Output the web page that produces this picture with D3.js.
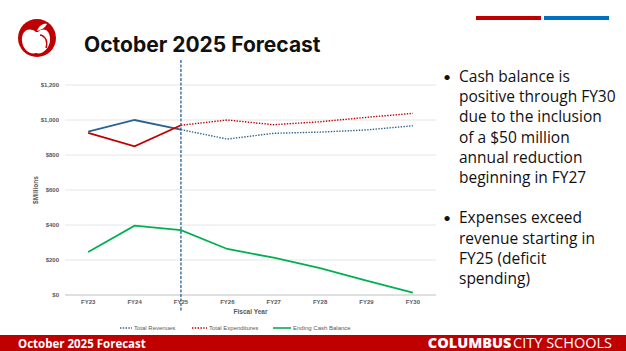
<!DOCTYPE html>
<html>
<head>
<meta charset="utf-8">
<script src="https://cdn.jsdelivr.net/npm/d3@7"></script>
<style>
  html, body { margin: 0; padding: 0; background: #fff; }
  svg { display: block; }
</style>
</head>
<body>
<div id="slide"></div>
<script>
// forecast data ($ millions)
const years = ["FY23", "FY24", "FY25", "FY26", "FY27", "FY28", "FY29", "FY30"];
const revenues = [933, 1000, 945, 891, 924, 931, 943, 967];
const expenditures = [927, 850, 970, 1000, 973, 990, 1015, 1038];
const cashBalance = [246, 396, 371, 263, 213, 154, 82, 13];
const yTicks = [0, 200, 400, 600, 800, 1000, 1200];
const actualThrough = "FY25";
const bullets = [
  ["Cash balance is", "positive through FY30", "due to the inclusion", "of a $50 million", "annual reduction", "beginning in FY27"],
  ["Expenses exceed", "revenue starting in", "FY25 (deficit", "spending)"]
];

const W = 626, H = 351;
const svg = d3.select("#slide").append("svg")
  .attr("width", W).attr("height", H)
  .style("font-family", "Lato, 'Open Sans', sans-serif");

// header accent bars
svg.append("rect").attr("x", 476).attr("y", 16).attr("width", 65).attr("height", 4).attr("fill", "#c00000");
svg.append("rect").attr("x", 544).attr("y", 16).attr("width", 65).attr("height", 4).attr("fill", "#0070c0");

// logo
const logo = svg.append("g").attr("transform", "translate(37,38)");
logo.append("circle").attr("r", 19).attr("fill", "#c00000");
logo.append("path")
  .attr("d", "M-1,-6 C-9,-12 -16,-6 -15,3 C-14,12 -7,17 -1,15 C5,17 12,11 13,3 C14,-6 8,-12 1,-6 Z")
  .attr("fill", "#fff");
logo.append("path")
  .attr("d", "M0,-7 C2,-13 7,-15 10,-14 C8,-10 4,-8 0,-7 Z")
  .attr("fill", "#fff");
logo.append("path")
  .attr("d", "M3,-3 C9,-2 11,4 9,10")
  .attr("fill", "none").attr("stroke", "#c00000").attr("stroke-width", 1.4);

svg.append("text")
  .attr("x", 84).attr("y", 52)
  .style("font-family", "Inter, 'Open Sans', sans-serif")
  .style("font-size", "21px").style("font-weight", 700)
  .attr("fill", "#111")
  .text("October 2025 Forecast");

// chart
const x = d3.scaleBand().domain(years).range([65, 436]);
const y = d3.scaleLinear().domain([0, 1200]).range([295, 85]);
const cx = d => x(d) + x.bandwidth() / 2;

svg.append("g")
  .selectAll("line")
  .data(yTicks)
  .join("line")
    .attr("x1", 65).attr("x2", 436)
    .attr("y1", d => y(d)).attr("y2", d => y(d))
    .attr("stroke", d => d === 0 ? "#bfbfbf" : "#e6e6e6")
    .attr("stroke-width", 1);

const yAxis = svg.append("g")
  .attr("transform", "translate(65,0)")
  .call(d3.axisLeft(y).tickValues(yTicks).tickSize(0).tickPadding(6)
    .tickFormat(d => "$" + d3.format(",")(d)));
yAxis.select(".domain").remove();
yAxis.selectAll("text").attr("fill", "#595959").style("font-size", "6px").style("font-weight", 700)
  .style("font-family", "Arial, 'Liberation Sans', sans-serif");

const xAxis = svg.append("g")
  .attr("transform", "translate(0,295)")
  .call(d3.axisBottom(x).tickSize(0).tickPadding(5));
xAxis.select(".domain").remove();
xAxis.selectAll("text").attr("fill", "#595959").style("font-size", "6px").style("font-weight", 700)
  .style("font-family", "Arial, 'Liberation Sans', sans-serif");

svg.append("text")
  .attr("x", cx("FY26") + x.bandwidth() / 2).attr("y", 314)
  .attr("text-anchor", "middle")
  .style("font-family", "Arial, 'Liberation Sans', sans-serif")
  .style("font-size", "6.5px").style("font-weight", 700).attr("fill", "#595959")
  .text("Fiscal Year");

svg.append("text")
  .attr("transform", "translate(38,190) rotate(-90)")
  .attr("text-anchor", "middle")
  .style("font-family", "Arial, 'Liberation Sans', sans-serif")
  .style("font-size", "6.5px").style("font-weight", 700).attr("fill", "#595959")
  .text("$Millions");

const line = d3.line().x(d => cx(d.year)).y(d => y(d.v));
const cut = years.indexOf(actualThrough);
function series(vals) { return years.map((yr, i) => ({ year: yr, v: vals[i] })); }

const lines = [
  { vals: revenues, color: "#2a628f" },
  { vals: expenditures, color: "#c00000" }
];
lines.forEach(s => {
  const pts = series(s.vals);
  svg.append("path").datum(pts.slice(0, cut + 1)).attr("d", line)
    .attr("fill", "none").attr("stroke", s.color).attr("stroke-width", 1.8);
  svg.append("path").datum(pts.slice(cut)).attr("d", line)
    .attr("fill", "none").attr("stroke", s.color).attr("stroke-width", 1.4)
    .attr("stroke-dasharray", "1.4,1.4");
});
svg.append("path").datum(series(cashBalance)).attr("d", line)
  .attr("fill", "none").attr("stroke", "#00b050").attr("stroke-width", 1.8);

// actual / forecast divider
svg.append("line")
  .attr("x1", cx(actualThrough)).attr("x2", cx(actualThrough))
  .attr("y1", 60).attr("y2", 311)
  .attr("stroke", "#2a628f").attr("stroke-width", 1.3)
  .attr("stroke-dasharray", "3,1.5");

// legend
const legend = [
  { label: "Total Revenues", color: "#2a628f", dash: "1.4,1.4", x0: 120, w: 12 },
  { label: "Total Expenditures", color: "#c00000", dash: "1.4,1.4", x0: 192, w: 15 },
  { label: "Ending Cash Balance", color: "#00b050", dash: null, x0: 273, w: 18 }
];
const lg = svg.append("g").selectAll("g").data(legend).join("g");
lg.append("line")
  .attr("x1", d => d.x0).attr("x2", d => d.x0 + d.w)
  .attr("y1", 328).attr("y2", 328)
  .attr("stroke", d => d.color).attr("stroke-width", 1.6)
  .attr("stroke-dasharray", d => d.dash);
lg.append("text")
  .attr("x", d => d.x0 + d.w + 2).attr("y", 330)
  .style("font-family", "Arial, 'Liberation Sans', sans-serif")
  .style("font-size", "6px").attr("fill", "#595959")
  .text(d => d.label);

// bullets
let ly = 82;
bullets.forEach((b, bi) => {
  if (bi > 0) ly += 20.2;
  b.forEach((t, i) => {
    if (i === 0) {
      svg.append("text").attr("x", 443).attr("y", ly).style("font-size", "14px").attr("fill", "#111").text("•");
    }
    svg.append("text").attr("x", 459).attr("y", ly)
      .style("font-family", "'Open Sans', sans-serif")
      .style("font-size", "15.5px").attr("fill", "#111")
      .text(t);
    ly += 20.2;
  });
});

// footer
svg.append("rect").attr("x", 0).attr("y", 335).attr("width", W).attr("height", 16).attr("fill", "#c00000");
svg.append("text").attr("x", 18).attr("y", 347.5)
  .style("font-family", "'Open Sans', sans-serif")
  .style("font-size", "11.5px").style("font-weight", 700).attr("fill", "#fff")
  .text("October 2025 Forecast");
const ft = svg.append("text").attr("x", 612).attr("y", 348).attr("text-anchor", "end")
  .style("font-family", "'Open Sans', sans-serif").style("font-size", "14.5px").attr("fill", "#fff");
ft.append("tspan").style("font-weight", 800).text("COLUMBUS");
ft.append("tspan").style("font-weight", 400).attr("dx", -2).text(" CITY SCHOOLS");
</script>
</body>
</html>
